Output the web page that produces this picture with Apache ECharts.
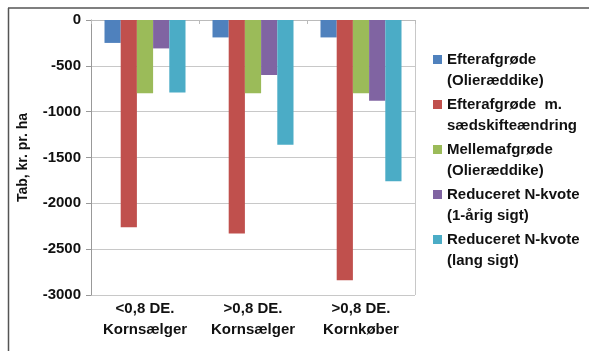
<!DOCTYPE html>
<html>
<head>
<meta charset="utf-8">
<script src="https://cdn.jsdelivr.net/npm/echarts@6/dist/echarts.min.js"></script>
<style>
    html, body { margin: 0; padding: 0; background: #fff; }
    #chart { width: 589px; height: 351px; }
</style>
</head>
<body>
<div id="chart"></div>
<script>
// data
const categories = ['<0,8 DE.\nKornsælger', '>0,8 DE.\nKornsælger', '>0,8 DE.\nKornkøber'];
const seriesNames = [
    'Efterafgrøde\n(Olieræddike)',
    'Efterafgrøde  m.\nsædskifteændring',
    'Mellemafgrøde\n(Olieræddike)',
    'Reduceret N-kvote\n(1-årig sigt)',
    'Reduceret N-kvote\n(lang sigt)'
];
const efterafgrode = [-250, -190, -190];
const efterafgrodeSaedskifte = [-2260, -2330, -2840];
const mellemafgrode = [-800, -800, -800];
const nKvoteKort = [-310, -600, -880];
const nKvoteLang = [-790, -1360, -1760];
const yTicks = [0, -500, -1000, -1500, -2000, -2500, -3000];

const colors = ['#4F81BD', '#C0504D', '#9BBB59', '#8064A2', '#4BACC6'];
const allValues = [efterafgrode, efterafgrodeSaedskifte, mellemafgrode, nKvoteKort, nKvoteLang];
const fontFam = '"Liberation Sans", Arial, sans-serif';

const chart = echarts.init(document.getElementById('chart'));

const series = allValues.map(function(vals, i) {
    return {
        name: seriesNames[i],
        type: 'bar',
        data: vals,
        barGap: '0%',
        barCategoryGap: '25%',
        itemStyle: { color: colors[i] }
    };
});

// square at the first text line, invisible dots stretch the icon box to two lines
const legendIcon = 'path://M0,6h9v9h-9zM0,0h0.01v0.01h-0.01zM0,42h0.01v0.01h-0.01z';

chart.setOption({
    animation: false,
    textStyle: { fontFamily: fontFam },
    grid: { left: 91, right: 174, top: 20, bottom: 56 },
    graphic: [
        // outer frame (top and left edge only)
        { type: 'line', shape: { x1: 8, y1: 8, x2: 589, y2: 8 }, style: { stroke: '#555', lineWidth: 1.5 } },
        { type: 'line', shape: { x1: 8.5, y1: 8, x2: 8.5, y2: 351 }, style: { stroke: '#555', lineWidth: 1.5 } },
        // right border of the plot area
        { type: 'line', shape: { x1: 415.5, y1: 20, x2: 415.5, y2: 295 }, style: { stroke: '#c8c8c8', lineWidth: 1 } }
    ],
    legend: {
        orient: 'vertical',
        left: 428,
        top: 44,
        icon: legendIcon,
        itemWidth: 9,
        itemHeight: 42,
        itemGap: 3,
        data: seriesNames,
        textStyle: {
            fontFamily: fontFam,
            fontWeight: 'bold',
            fontSize: 15,
            color: '#111',
            lineHeight: 21
        }
    },
    xAxis: [{
        type: 'category',
        data: categories,
        position: 'bottom',
        axisLine: { show: false },
        axisTick: { show: false },
        axisLabel: {
            interval: 0,
            fontFamily: fontFam,
            fontWeight: 'bold',
            fontSize: 15,
            color: '#111',
            lineHeight: 21,
            margin: 3
        }
    }, {
        type: 'category',
        data: categories,
        position: 'top',
        axisLine: { show: true, lineStyle: { color: '#bbb' } },
        axisTick: { show: true, inside: true, length: 4, lineStyle: { color: '#bbb' } },
        axisLabel: { show: false }
    }],
    yAxis: {
        type: 'value',
        min: yTicks[yTicks.length - 1],
        max: yTicks[0],
        interval: 500,
        name: 'Tab, kr. pr. ha',
        nameLocation: 'middle',
        nameGap: 61,
        nameTextStyle: {
            fontFamily: fontFam,
            fontWeight: 'bold',
            fontSize: 14,
            color: '#111'
        },
        axisLine: { show: true, lineStyle: { color: '#999' } },
        axisTick: { show: true, length: 5, lineStyle: { color: '#999' } },
        axisLabel: {
            fontFamily: fontFam,
            fontWeight: 'bold',
            fontSize: 15,
            color: '#111',
            margin: 10,
            formatter: function(v) { return String(v); }
        },
        splitLine: { show: true, lineStyle: { color: '#c8c8c8' } }
    },
    series: series
});
</script>
</body>
</html>
